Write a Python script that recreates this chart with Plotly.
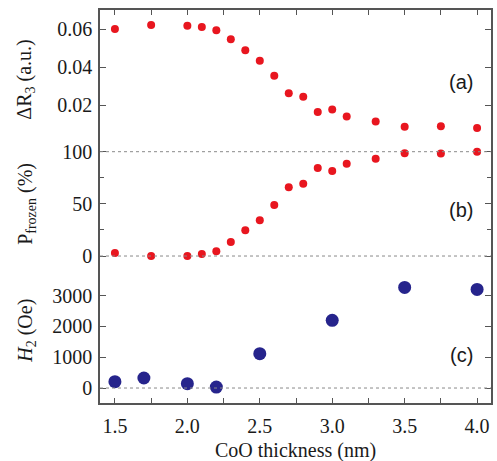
import plotly.graph_objects as go
from plotly.subplots import make_subplots

# CoO thickness (nm) for panels (a) and (b)
thickness = [1.5, 1.75, 2.0, 2.1, 2.2, 2.3, 2.4, 2.5, 2.6, 2.7, 2.8, 2.9, 3.0, 3.1, 3.3, 3.5, 3.75, 4.0]
# (a) Delta R3 amplitude (a.u.)
delta_r3 = [0.0600, 0.0621, 0.0617, 0.0611, 0.0593, 0.0546, 0.0488, 0.0433, 0.0354, 0.0262,
            0.0244, 0.0163, 0.0177, 0.0140, 0.0114, 0.0086, 0.0088, 0.0079]
# (b) frozen fraction (%)
p_frozen = [3, 0, 0, 2, 4.5, 13.4, 24.6, 34.2, 48.9, 65.9, 69.3, 84.4, 81.5, 88.5, 93.3, 98.5, 98.2, 100]

# (c) H2 field (Oe)
thickness_h2 = [1.5, 1.7, 2.0, 2.2, 2.5, 3.0, 3.5, 4.0]
h2_field = [205, 325, 140, 30, 1115, 2200, 3270, 3205]

RED = "#e8161f"
BLUE = "#26248c"
FRAME = "#555555"
TEXT = "#1a1a1a"
SERIF = "Liberation Serif"
SANS = "Liberation Sans"

fig = make_subplots(rows=3, cols=1, shared_xaxes=True, vertical_spacing=0)

fig.add_trace(go.Scatter(x=thickness, y=delta_r3, mode="markers",
                         marker=dict(color=RED, size=8)), row=1, col=1)
fig.add_trace(go.Scatter(x=thickness, y=p_frozen, mode="markers",
                         marker=dict(color=RED, size=8)), row=2, col=1)
fig.add_trace(go.Scatter(x=thickness_h2, y=h2_field, mode="markers",
                         marker=dict(color=BLUE, size=13)), row=3, col=1)

# panel domains (bottom to top): (c), (b), (a)
dom_c = [0.0, 0.3384]
dom_b = [0.3384, 0.6692]
dom_a = [0.6692, 1.0]

tickfont = dict(family=SERIF, size=20, color=TEXT)
yaxis_common = dict(showline=True, linecolor=FRAME, linewidth=1.5, mirror="ticks",
                    ticks="inside", ticklen=6, tickcolor=FRAME, tickwidth=1.2,
                    showgrid=False, zeroline=False, tickfont=tickfont, ticklabelstandoff=2)

fig.update_layout(
    yaxis=dict(domain=dom_a, range=[0.0016, 0.070], tickvals=[0.02, 0.04, 0.06],
               ticktext=["0.02", "0.04", "0.06"], **yaxis_common),
    yaxis2=dict(domain=dom_b, range=[-13.4, 111.2], tickvals=[0, 50, 100],
                minor=dict(dtick=25, ticks="inside", ticklen=4, tickcolor=FRAME), **yaxis_common),
    yaxis3=dict(domain=dom_c, range=[-487, 3835], tickvals=[0, 1000, 2000, 3000], **yaxis_common),
)

xrange = [1.397, 4.096]
xminor = dict(dtick=0.25, ticks="inside", ticklen=5, tickcolor=FRAME, tick0=1.5)
fig.update_xaxes(range=xrange, showgrid=False, zeroline=False, dtick=0.5, tick0=1.5)
fig.update_layout(
    xaxis=dict(side="top", showline=True, linecolor=FRAME, linewidth=1.5, ticks="inside",
               ticklen=5, tickcolor=FRAME, showticklabels=False, minor=xminor),
    xaxis2=dict(showline=False, ticks="", showticklabels=False),
    xaxis3=dict(showline=True, linecolor=FRAME, linewidth=1.5, ticks="inside", ticklen=5,
                tickcolor=FRAME, showticklabels=True, tickformat=".1f", tickfont=tickfont,
                minor=xminor, ticklabelstandoff=4),
)

# dotted reference lines
dot = dict(color="#8a8a8a", width=1, dash="dot")
for ref in (0, 100):
    fig.add_shape(type="line", xref="x2 domain", yref="y2", x0=0, x1=1, y0=ref, y1=ref, line=dot)
fig.add_shape(type="line", xref="x3 domain", yref="y3", x0=0, x1=1, y0=0, y1=0, line=dot)

# axis titles
titles = [
    ("ΔR<sub>3</sub> (a.u.)", 0.822),
    ("P<sub>frozen</sub> (%)", 0.506),
    ("<i>H</i><sub>2</sub> (Oe)", 0.183),
]
for text, ypos in titles:
    fig.add_annotation(text=text, xref="paper", yref="paper", x=-0.19, y=ypos,
                       textangle=-90, showarrow=False, xanchor="center", yanchor="middle",
                       font=dict(family=SERIF, size=20, color=TEXT))
fig.add_annotation(text="CoO thickness (nm)", xref="paper", yref="paper", x=0.5, y=-0.122,
                   showarrow=False, xanchor="center", yanchor="middle",
                   font=dict(family=SERIF, size=20, color=TEXT))

# panel letters
for text, ypos in [("(a)", 0.817), ("(b)", 0.491), ("(c)", 0.122)]:
    fig.add_annotation(text=text, xref="paper", yref="paper", x=0.924, y=ypos,
                       showarrow=False, xanchor="center", yanchor="middle",
                       font=dict(family=SANS, size=20, color=TEXT))

fig.update_layout(
    width=497, height=461,
    margin=dict(l=100, r=4, t=10, b=58),
    paper_bgcolor="white", plot_bgcolor="white",
    showlegend=False,
)

fig.write_html("out.html")
